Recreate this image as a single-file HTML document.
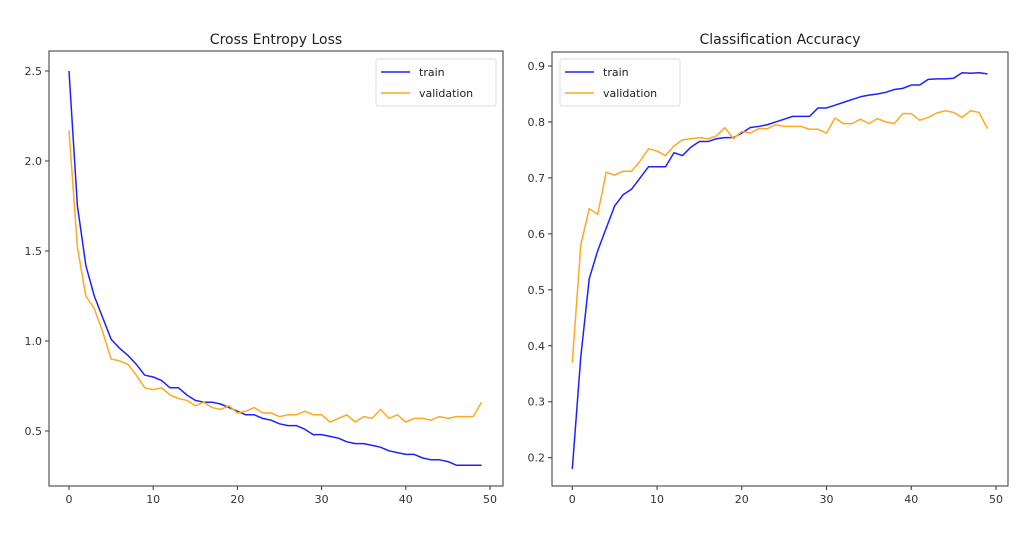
<!DOCTYPE html>
<html><head><meta charset="utf-8"><style>
html,body{margin:0;padding:0;background:#fff;}
svg{display:block;font-family:"DejaVu Sans","Liberation Sans",sans-serif;}
</style></head><body>
<svg id="c" width="1028" height="536" viewBox="0 0 1028 536"></svg>
<script>
const epochs = Array.from({length:50},(_,i)=>i);
const lossTrain = [2.5,1.75,1.42,1.25,1.13,1.01,0.96,0.92,0.87,0.81,0.80,0.78,0.74,0.74,0.70,0.67,0.66,0.66,0.65,0.63,0.61,0.59,0.59,0.57,0.56,0.54,0.53,0.53,0.51,0.48,0.48,0.47,0.46,0.44,0.43,0.43,0.42,0.41,0.39,0.38,0.37,0.37,0.35,0.34,0.34,0.33,0.31,0.31,0.31,0.31];
const lossVal = [2.17,1.52,1.25,1.18,1.05,0.90,0.89,0.87,0.81,0.74,0.73,0.74,0.70,0.68,0.67,0.64,0.66,0.63,0.62,0.64,0.60,0.61,0.63,0.60,0.60,0.58,0.59,0.59,0.61,0.59,0.59,0.55,0.57,0.59,0.55,0.58,0.57,0.62,0.57,0.59,0.55,0.57,0.57,0.56,0.58,0.57,0.58,0.58,0.58,0.66];
const accTrain = [0.18,0.38,0.52,0.57,0.61,0.65,0.67,0.68,0.70,0.72,0.72,0.72,0.745,0.74,0.755,0.765,0.765,0.77,0.772,0.772,0.78,0.79,0.792,0.795,0.80,0.805,0.81,0.81,0.81,0.825,0.825,0.83,0.835,0.84,0.845,0.848,0.85,0.853,0.858,0.86,0.866,0.866,0.876,0.877,0.877,0.878,0.888,0.887,0.888,0.886];
const accVal = [0.37,0.58,0.645,0.635,0.71,0.705,0.712,0.712,0.73,0.752,0.748,0.74,0.757,0.768,0.77,0.772,0.77,0.775,0.79,0.77,0.783,0.78,0.788,0.788,0.795,0.792,0.792,0.792,0.787,0.787,0.78,0.807,0.797,0.797,0.805,0.797,0.806,0.80,0.797,0.815,0.815,0.803,0.808,0.816,0.82,0.817,0.808,0.82,0.817,0.788];
const xTicks = [0,10,20,30,40,50];
const lossTicks = [0.5,1.0,1.5,2.0,2.5];
const accTicks = [0.2,0.3,0.4,0.5,0.6,0.7,0.8,0.9];

const NS="http://www.w3.org/2000/svg";
const svg=document.getElementById('c');
function mk(tag,attrs,parent){const e=document.createElementNS(NS,tag);for(const k in attrs)e.setAttribute(k,attrs[k]);(parent||svg).appendChild(e);return e;}

function panel(p){
  const g=mk('g',{});
  
  
  const sx=v=>p.x0+(v-0)*(p.x50-p.x0)/50;
  const sy=v=>p.ya+(v-p.va)*(p.yb-p.ya)/(p.vb-p.va);
  const t=mk('text',{x:(p.L+p.R)/2,y:44,'text-anchor':'middle','font-size':14,fill:'#222'},g);
  t.textContent=p.title;
  
  
  xTicks.forEach(v=>{
    const x=sx(v);
    mk('line',{x1:x,x2:x,y1:p.B,y2:p.B+4,stroke:'#333','stroke-width':1},g);
    const tt=mk('text',{x:x,y:p.B+17,'text-anchor':'middle','font-size':11,fill:'#333'},g);
    tt.textContent=v;
    
    
  });
  p.yTicks.forEach(v=>{
    const y=sy(v);
    mk('line',{x1:p.L-4,x2:p.L,y1:y,y2:y,stroke:'#333','stroke-width':1},g);
    const tt=mk('text',{x:p.L-7,y:y+4,'text-anchor':'end','font-size':11,fill:'#333'},g);
    tt.textContent=v.toFixed(1);
    
    
  });
  const series=[[p.train,'#2020ff','train-line'],[p.val,'#ffa820','validation-line']];
  series.forEach(([d,c,n])=>{
    const pl=mk('polyline',{points:d.map((v,i)=>sx(epochs[i])+','+sy(v)).join(' '),fill:'none',stroke:c,'stroke-width':1.5,'stroke-linejoin':'round'},g);
    
    
  });
  const fr=mk('rect',{x:p.L,y:p.T,width:p.R-p.L,height:p.B-p.T,fill:'none',stroke:'#333','stroke-width':1},g);
  
  
  const lg=mk('g',{},g);
  
  
  mk('rect',{x:p.lx,y:59,width:120,height:47,rx:2,fill:'#fff',stroke:'#ddd'},lg);
  [['train','#2020ff',72],['validation','#ffa820',93]].forEach(([lab,c,y])=>{
    mk('line',{x1:p.lx+5,x2:p.lx+34,y1:y,y2:y,stroke:c,'stroke-width':1.5},lg);
    const lt=mk('text',{x:p.lx+43,y:y+4,'font-size':11,fill:'#222'},lg);
    lt.textContent=lab;
    
    
  });
}
panel({name:'loss-chart',title:'Cross Entropy Loss',L:49,R:503,T:51,B:486,x0:69,x50:490,ya:71,va:2.5,yb:431,vb:0.5,yTicks:lossTicks,train:lossTrain,val:lossVal,lx:376});
panel({name:'accuracy-chart',title:'Classification Accuracy',L:552,R:1008,T:52,B:486,x0:572.3,x50:996,ya:66,va:0.9,yb:457.7,vb:0.2,yTicks:accTicks,train:accTrain,val:accVal,lx:560});
</script>
</body></html>
